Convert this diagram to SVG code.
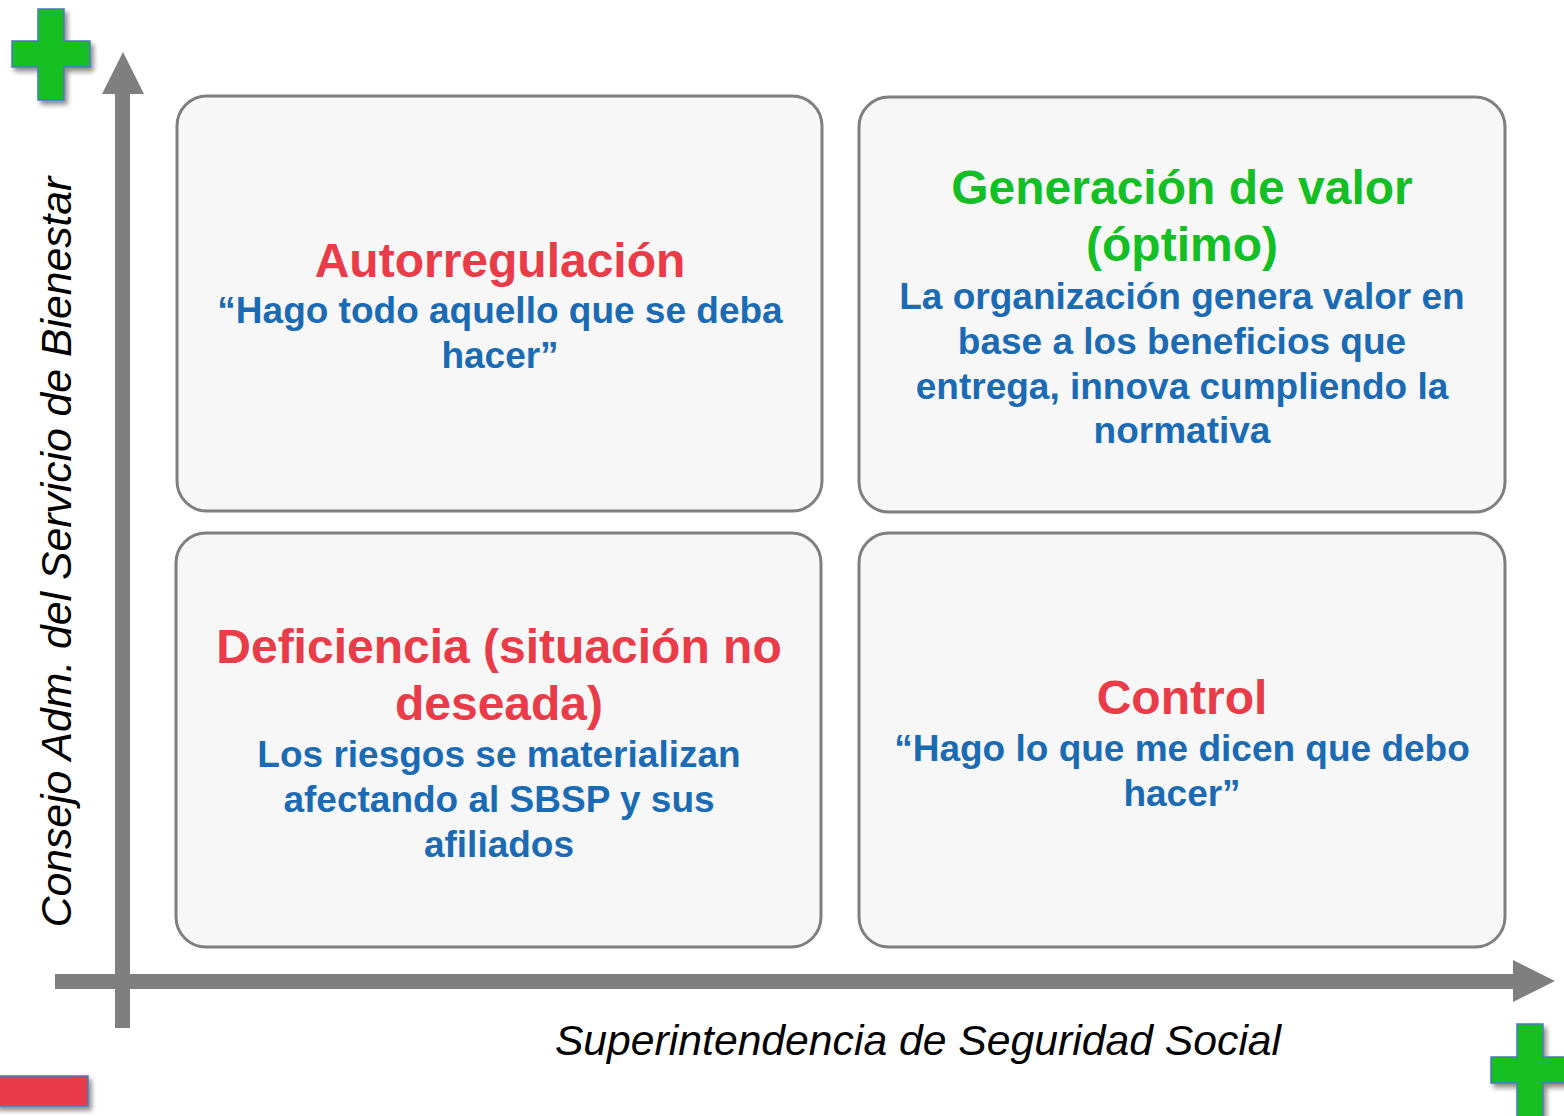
<svg xmlns="http://www.w3.org/2000/svg" width="1564" height="1116" viewBox="0 0 1564 1116">
<defs>
<filter id="sh" x="-20%" y="-20%" width="150%" height="150%">
<feGaussianBlur in="SourceAlpha" stdDeviation="2.5"/>
<feOffset dx="3" dy="4" result="b"/>
<feComponentTransfer><feFuncA type="linear" slope="0.45"/></feComponentTransfer>
<feMerge><feMergeNode/><feMergeNode in="SourceGraphic"/></feMerge>
</filter>
</defs>
<style>
.box{fill:#f7f7f7;stroke:#7f7f7f;stroke-width:3}
.t{font-family:"Liberation Sans",Arial,sans-serif;font-weight:bold;text-anchor:middle}
.red{fill:#e93b48;font-size:48px}
.grn{fill:#13bf24;font-size:48px}
.blu{fill:#1b6bb4;font-size:37px}
.ax{fill:#7f7f7f}
.lab{font-family:"Liberation Sans",Arial,sans-serif;font-style:italic;font-size:42.7px;fill:#000}
.plus{fill:#12bf24;stroke:#4a78c0;stroke-width:1.5}
</style>
<rect width="1564" height="1116" fill="#ffffff"/>

<g id="connectors">
<rect class="ax" x="115" y="92" width="15" height="936"/>
<polygon class="ax" points="123,52 144,94 102,94"/>
<rect class="ax" x="55" y="974" width="1460" height="15"/>
<polygon class="ax" points="1555,981 1513,960 1513,1002"/>
</g>

<g id="plus-top" filter="url(#sh)">
<path class="plus" d="M38,9 H64 V41 H90 V67 H64 V100 H38 V67 H12 V41 H38 Z"/>
</g>
<g id="plus-bottom" filter="url(#sh)">
<path class="plus" d="M1517,1024 H1543 V1057 H1570 V1083 H1543 V1120 H1517 V1083 H1491 V1057 H1517 Z"/>
</g>
<g id="minus" filter="url(#sh)">
<rect x="-5" y="1076" width="93" height="30" fill="#e93b48" stroke="#4a78c0" stroke-width="1.5"/>
</g>

<g id="box-autorregulacion">
<rect class="box" x="177" y="96" width="645" height="415" rx="30"/>
<text class="t red" x="500" y="277">Autorregulación</text>
<text class="t blu" x="500" y="323">“Hago todo aquello que se deba</text>
<text class="t blu" x="500" y="368">hacer”</text>
</g>

<g id="box-generacion">
<rect class="box" x="859" y="97" width="646" height="415" rx="30"/>
<text class="t grn" x="1182" y="204">Generación de valor</text>
<text class="t grn" x="1182" y="261">(óptimo)</text>
<text class="t blu" x="1182" y="309">La organización genera valor en</text>
<text class="t blu" x="1182" y="354">base a los beneficios que</text>
<text class="t blu" x="1182" y="399">entrega, innova cumpliendo la</text>
<text class="t blu" x="1182" y="443">normativa</text>
</g>

<g id="box-deficiencia">
<rect class="box" x="176" y="533" width="645" height="414" rx="30"/>
<text class="t red" x="499" y="663">Deficiencia (situación no</text>
<text class="t red" x="499" y="720">deseada)</text>
<text class="t blu" x="499" y="767">Los riesgos se materializan</text>
<text class="t blu" x="499" y="812">afectando al SBSP y sus</text>
<text class="t blu" x="499" y="857">afiliados</text>
</g>

<g id="box-control">
<rect class="box" x="859" y="533" width="646" height="414" rx="30"/>
<text class="t red" x="1182" y="714">Control</text>
<text class="t blu" x="1182" y="761">“Hago lo que me dicen que debo</text>
<text class="t blu" x="1182" y="806">hacer”</text>
</g>

<g id="axis-labels">
<text class="lab" x="918" y="1055" text-anchor="middle">Superintendencia de Seguridad Social</text>
<text class="lab" transform="translate(71,552) rotate(-90)" text-anchor="middle">Consejo Adm. del Servicio de Bienestar</text>
</g>
</svg>
